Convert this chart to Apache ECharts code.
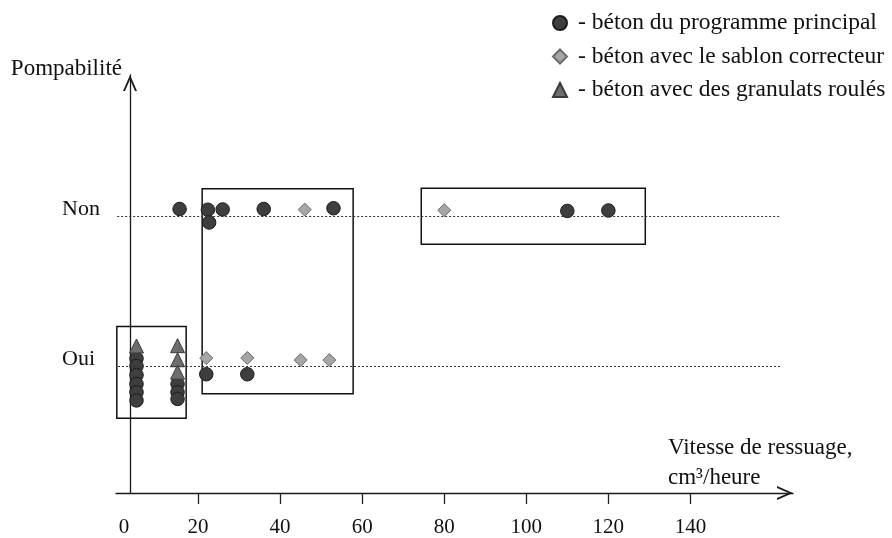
<!DOCTYPE html>
<html>
<head>
<meta charset="utf-8">
<script src="https://cdn.jsdelivr.net/npm/echarts@6/dist/echarts.min.js"></script>
<style>
  html, body { margin: 0; padding: 0; background: #fff; }
  #chart { width: 892px; height: 538px; }
</style>
</head>
<body>
<div id="chart"></div>
<script>
/****** DATA ******/
// x = vitesse de ressuage (cm3/heure), y = pompabilité (0 = Oui, 1 = Non, small offsets keep stacked points visible)
var principalX = [5, 5, 5, 5, 5, 5, 15, 15, 15, 22, 32, 15.5, 22.4, 26, 22.7, 36, 53, 110, 120];
var principalY = [0.05, 0, -0.06, -0.12, -0.175, -0.23, -0.12, -0.175, -0.22, -0.055, -0.055,
                  1.05, 1.045, 1.047, 0.96, 1.05, 1.055, 1.037, 1.04];

var sablonX = [22, 32, 45, 52, 46, 80];
var sablonY = [0.053, 0.054, 0.04, 0.04, 1.046, 1.042];

var roulesX = [5, 15, 15, 15];
var roulesY = [0.134, 0.136, 0.042, -0.041];

var seriesNames = ['béton du programme principal', 'béton avec le sablon correcteur', 'béton avec des granulats roulés'];
var yLabels = ['Oui', 'Non'];
var xTickLabels = [0, 20, 40, 60, 80, 100, 120, 140];

// groups drawn as boxes: [xMin, yMin, xMax, yMax]
var boxes = [
    [0.2, -0.35, 17.1, 0.265],
    [21, -0.186, 57.8, 1.185],
    [74.4, 0.814, 129, 1.189]
];
// horizontal guide lines for Oui / Non
var guideLines = [[0.5, 0], [0.3, 1]];
var guideEnd = 162;

const FONT = 'Liberation Serif';
const ARROW = 'path://M0,16 L7,0 L14,16 L12,16 L7,4.5 L2,16 Z';

function zip(xs, ys) {
    var out = [];
    for (var i = 0; i < xs.length; i++) {
        out.push([xs[i], ys[i]]);
    }
    return out;
}

var myChart = echarts.init(document.getElementById('chart'));

var option = {
    animation: false,
    backgroundColor: '#fff',
    textStyle: { fontFamily: FONT, color: '#111' },
    grid: { left: 116, right: 99, top: 75, bottom: 45 },
    legend: {
        orient: 'vertical',
        left: 547,
        top: 6,
        itemWidth: 14,
        itemHeight: 14,
        itemGap: 9.5,
        formatter: '- {name}',
        textStyle: { fontFamily: FONT, fontSize: 23.5, color: '#111', padding: [0, 0, 0, 6] },
        data: [
            { name: seriesNames[0], icon: 'circle' },
            { name: seriesNames[1], icon: 'diamond' },
            { name: seriesNames[2], icon: 'triangle' }
        ]
    },
    xAxis: {
        type: 'value',
        min: 0,
        max: 165,
        name: 'Vitesse de ressuage,\ncm³/heure',
        nameLocation: 'end',
        nameGap: -125,
        nameTextStyle: {
            fontFamily: FONT, fontSize: 23, color: '#111',
            align: 'left', verticalAlign: 'bottom', lineHeight: 30, padding: [0, 0, 0, 0]
        },
        splitLine: { show: false },
        axisLine: {
            onZero: false,
            symbol: ['none', ARROW],
            symbolSize: [14, 16],
            symbolOffset: [0, -8],
            lineStyle: { color: '#1a1a1a', width: 1.3 }
        },
        axisTick: {
            length: 11,
            customValues: xTickLabels.slice(1),
            lineStyle: { color: '#222', width: 1.3 }
        },
        axisLabel: {
            customValues: xTickLabels,
            margin: 24,
            fontFamily: FONT,
            fontSize: 21,
            color: '#111',
            formatter: function (v) { return v === 0 ? '{z|0}' : String(v); },
            rich: { z: { fontFamily: FONT, fontSize: 21, color: '#111', padding: [0, 0, 0, 16] } }
        }
    },
    yAxis: {
        type: 'value',
        min: -0.849,
        max: 1.946,
        offset: -14,
        name: 'Pompabilité',
        nameLocation: 'end',
        nameGap: -5,
        nameTextStyle: {
            fontFamily: FONT, fontSize: 23, color: '#111',
            align: 'right', verticalAlign: 'bottom', padding: [0, 8, 0, 0]
        },
        splitLine: { show: false },
        axisTick: { show: false },
        axisLine: {
            onZero: false,
            symbol: ['none', ARROW],
            symbolSize: [14, 16],
            symbolOffset: [0, -8],
            lineStyle: { color: '#1a1a1a', width: 1.3 }
        },
        axisLabel: {
            customValues: [0, 1],
            align: 'left',
            verticalAlign: 'bottom',
            lineHeight: 14,
            margin: 68,
            fontFamily: FONT,
            fontSize: 22,
            color: '#111',
            formatter: function (v) { return yLabels[Math.round(v)]; }
        }
    },
    series: [{
        name: seriesNames[0],
        type: 'scatter',
        symbol: 'circle',
        symbolSize: 13.5,
        itemStyle: { color: '#3e3e3e', borderColor: '#1c1c1c', borderWidth: 1, opacity: 1 },
        data: zip(principalX, principalY),
        markArea: {
            silent: true,
            itemStyle: { color: 'rgba(0,0,0,0)', borderColor: '#111', borderWidth: 1.5 },
            data: boxes.map(function (b) {
                return [{ coord: [b[0], b[1]] }, { coord: [b[2], b[3]] }];
            })
        },
        markLine: {
            silent: true,
            symbol: 'none',
            label: { show: false },
            lineStyle: { color: '#333', width: 1, type: [2, 2] },
            data: guideLines.map(function (g) {
                return [{ coord: [g[0], g[1]] }, { coord: [guideEnd, g[1]] }];
            })
        }
    }, {
        name: seriesNames[1],
        type: 'scatter',
        symbol: 'diamond',
        symbolSize: [13, 13],
        itemStyle: { color: '#a6a6a6', borderColor: '#6a6a6a', borderWidth: 1, opacity: 1 },
        data: zip(sablonX, sablonY)
    }, {
        name: seriesNames[2],
        type: 'scatter',
        symbol: 'triangle',
        symbolSize: [14, 14],
        itemStyle: { color: '#6e6e6e', borderColor: '#3a3a3a', borderWidth: 1, opacity: 1 },
        data: zip(roulesX, roulesY)
    }]
};

myChart.setOption(option);
</script>
</body>
</html>
